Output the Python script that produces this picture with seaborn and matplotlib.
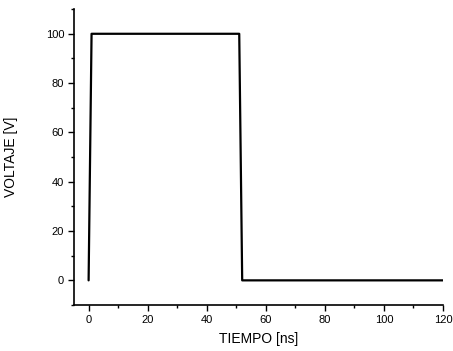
import matplotlib
matplotlib.use("Agg")
import matplotlib.pyplot as plt
import seaborn as sns
import pandas as pd
from matplotlib.ticker import MultipleLocator

tiempo = [0, 1, 51, 52, 120]
voltaje = [0, 100, 100, 0, 0]

sns.set_style("ticks")
plt.rcParams['font.family'] = ['Liberation Sans', 'DejaVu Sans']
plt.rcParams['text.color'] = 'black'
plt.rcParams['axes.labelcolor'] = 'black'

fig = plt.figure(figsize=(4.53, 3.51), dpi=100)
ax = fig.add_axes([0.163, 0.131, 0.815, 0.843])
df = pd.DataFrame({"t": tiempo, "v": voltaje})
sns.lineplot(data=df, x="t", y="v", ax=ax, color="black", linewidth=1.6, sort=False)

ax.set_xlim(-5, 120)
ax.set_ylim(-10, 110)
ax.xaxis.set_minor_locator(MultipleLocator(10))
ax.yaxis.set_minor_locator(MultipleLocator(10))
ax.set_xticks([0, 20, 40, 60, 80, 100, 120])
ax.set_yticks([0, 20, 40, 60, 80, 100])
ax.tick_params(which="major", direction="out", length=4, width=1, labelsize=8, colors="black", pad=3)
ax.tick_params(which="minor", direction="out", length=2.5, width=1, colors="black")
for s in ["top", "right"]:
    ax.spines[s].set_visible(False)
for s in ["left", "bottom"]:
    ax.spines[s].set_linewidth(1.2)
    ax.spines[s].set_color("black")
ax.set_xlabel("TIEMPO [ns]", fontsize=10, labelpad=5)
ax.set_ylabel("VOLTAJE [V]", fontsize=10, labelpad=20)

fig.savefig("out.png", dpi=100)
